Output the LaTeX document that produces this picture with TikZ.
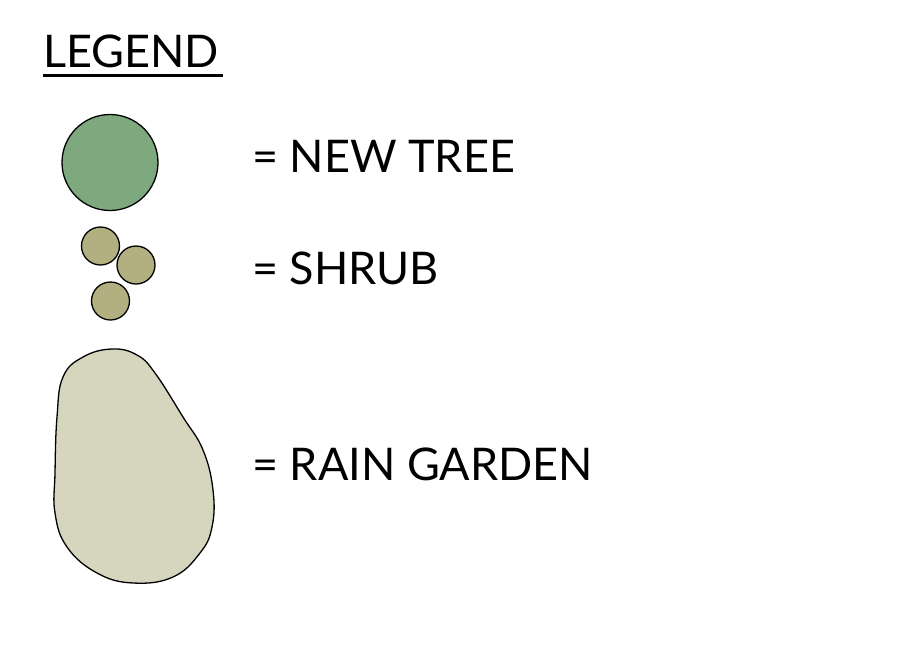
\documentclass[tikz,border=0pt]{standalone}
\usepackage{fontspec}
\setmainfont{Lato}
\definecolor{treeg}{HTML}{7EA97F}
\definecolor{shrubg}{HTML}{B2AF80}
\definecolor{raing}{HTML}{D6D6BF}
\begin{document}
\begin{tikzpicture}[x=1pt,y=-1pt,
  outl/.style={draw=black,line width=1.3pt},
  lbl/.style={anchor=base west,inner sep=0pt,font=\fontsize{45}{50}\selectfont}]
\useasboundingbox (0,0) rectangle (900,646);
\node[lbl] (title) at (43,67) {LEGEND};
\draw[line width=3pt] (43,75) -- (223,75);
\node[circle,outl,fill=treeg,minimum size=96pt,inner sep=0pt] (tree) at (110,162.5) {};
\node[circle,outl,fill=shrubg,minimum size=38pt,inner sep=0pt] (s1) at (100.5,246) {};
\node[circle,outl,fill=shrubg,minimum size=38pt,inner sep=0pt] (s2) at (136,265) {};
\node[circle,outl,fill=shrubg,minimum size=38pt,inner sep=0pt] (s3) at (110.5,301) {};
\draw[outl,fill=raing] plot[smooth cycle,tension=0.7] coordinates {
 (112,349) (137,355) (155,373) (183,417) (203,450) (213,490) (212,527) (200,553)
 (173,577) (133,583) (97,573) (67,547) (55,513) (55,473) (57,417) (63,377) (83,357)};
\node[lbl] (t1) at (252,172) {= NEW TREE};
\node[lbl] (t2) at (252,284) {= SHRUB};
\node[lbl] (t3) at (252,480) {= RAIN GARDEN};
\end{tikzpicture}
\end{document}
